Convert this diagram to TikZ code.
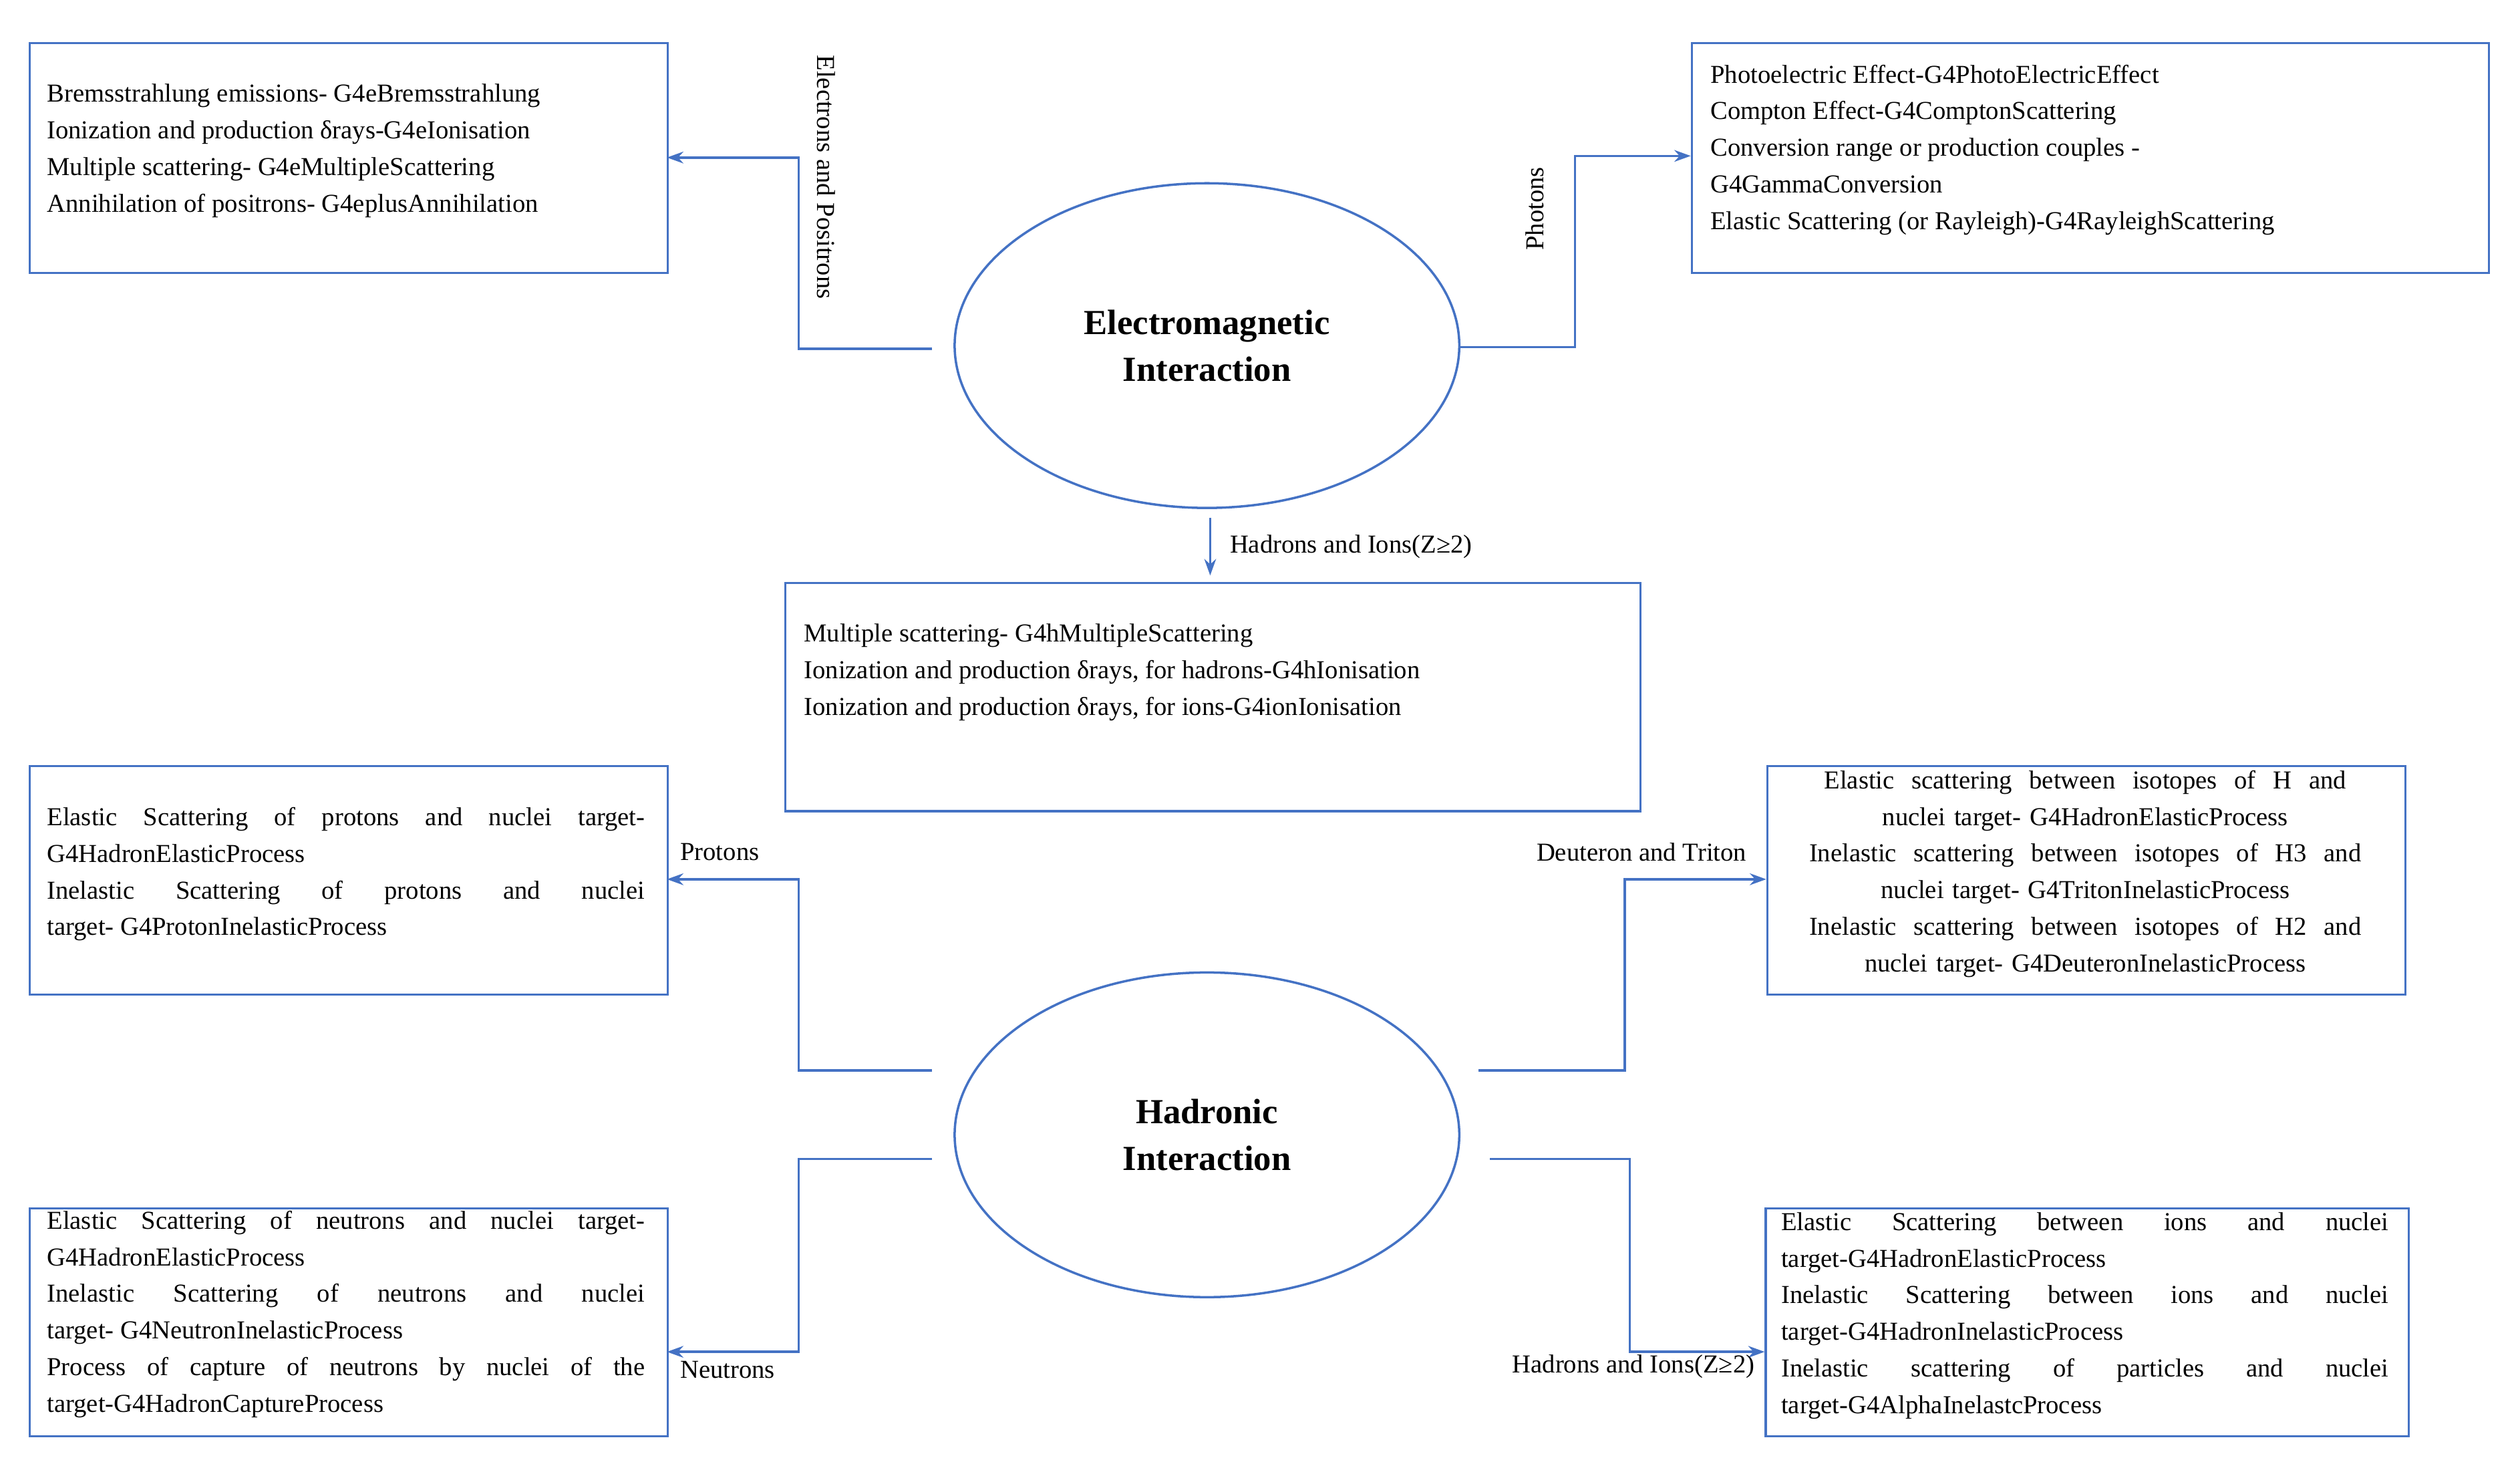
\documentclass[tikz,border=0pt]{standalone}
\usepackage{fontspec}
\setmainfont{Liberation Serif}
\usetikzlibrary{arrows.meta}
\definecolor{ln}{RGB}{68,114,196}
\begin{document}
\begin{tikzpicture}[x=0.02406cm,y=-0.02406cm,
  box/.style={draw=ln,line width=0.9pt,inner sep=0pt},
  txt/.style={font=\fontsize{11}{15.6}\selectfont,inner sep=0pt},
  con/.style={draw=ln,line width=1pt,-{Stealth[length=7pt,width=5pt]}},
  ell/.style={draw=ln,line width=1pt,ellipse,minimum width=314\pgflinewidth}]
\useasboundingbox (0,0) rectangle (1568,914.5);
% boxes
\node[box,minimum width=397*0.02406cm,minimum height=143*0.02406cm,anchor=north west] (b1) at (18,26) {};
\node[box,minimum width=496*0.02406cm,minimum height=143*0.02406cm,anchor=north west] (b2) at (1052,26) {};
\node[box,minimum width=532*0.02406cm,minimum height=142*0.02406cm,anchor=north west] (b3) at (488,362) {};
\node[box,minimum width=397*0.02406cm,minimum height=142*0.02406cm,anchor=north west] (b4) at (18,476) {};
\node[box,minimum width=397*0.02406cm,minimum height=142*0.02406cm,anchor=north west] (b5) at (1099,476) {};
\node[box,minimum width=397*0.02406cm,minimum height=142*0.02406cm,anchor=north west] (b6) at (18,751) {};
\node[box,minimum width=400*0.02406cm,minimum height=142*0.02406cm,anchor=north west] (b7) at (1098,751) {};
% texts
\node[txt,anchor=north west,align=left] (t1) at (29,52) {Bremsstrahlung emissions- G4eBremsstrahlung\\Ionization and production δrays-G4eIonisation\\Multiple scattering- G4eMultipleScattering\\Annihilation of positrons- G4eplusAnnihilation};
\node[txt,anchor=north west,align=left] (t2) at (1064,40) {Photoelectric Effect-G4PhotoElectricEffect\\Compton Effect-G4ComptonScattering\\Conversion range or production couples -\\G4GammaConversion\\Elastic Scattering (or Rayleigh)-G4RayleighScattering};
\node[txt,anchor=north west,align=left] (t3) at (500,388) {Multiple scattering- G4hMultipleScattering\\Ionization and production δrays, for hadrons-G4hIonisation\\Ionization and production δrays, for ions-G4ionIonisation};
\node[txt,anchor=north west,align=justify,text width=372*0.02406cm] (t4) at (29,502) {Elastic Scattering of protons and nuclei target-\linebreak G4HadronElasticProcess\\Inelastic Scattering of protons and nuclei\linebreak target- G4ProtonInelasticProcess};
\node[txt,anchor=north,align=center,text width=372*0.02406cm] (t5) at (1297.5,479) {Elastic\ \ scattering\ \ between\ \ isotopes\ \ of\ \ H\ \ and\\nuclei target- G4HadronElasticProcess\\Inelastic\ \ scattering\ \ between\ \ isotopes\ \ of\ \ H3\ \ and\\nuclei target- G4TritonInelasticProcess\\Inelastic\ \ scattering\ \ between\ \ isotopes\ \ of\ \ H2\ \ and\\nuclei target- G4DeuteronInelasticProcess};
\node[txt,anchor=north west,align=justify,text width=372*0.02406cm] (t6) at (29,753) {Elastic Scattering of neutrons and nuclei target-\linebreak G4HadronElasticProcess\\Inelastic Scattering of neutrons and nuclei\linebreak target- G4NeutronInelasticProcess\\Process of capture of neutrons by nuclei of the\linebreak target-G4HadronCaptureProcess};
\node[txt,anchor=north west,align=justify,text width=378*0.02406cm] (t7) at (1108,754) {Elastic Scattering between ions and nuclei\linebreak target-G4HadronElasticProcess\\Inelastic Scattering between ions and nuclei\linebreak target-G4HadronInelasticProcess\\Inelastic scattering of particles and nuclei\linebreak target-G4AlphaInelastcProcess};
% ellipses
\draw[ln,line width=1pt] (751,215) ellipse [x radius=157,y radius=101];
\draw[ln,line width=1pt] (751,706) ellipse [x radius=157,y radius=101];
\node[font=\fontsize{15}{20}\selectfont\bfseries,align=center] (e1) at (751,215) {Electromagnetic\\Interaction};
\node[font=\fontsize{15}{20}\selectfont\bfseries,align=center] (e2) at (751,706) {Hadronic\\Interaction};
% connectors
\coordinate (c1) at (580,217); \coordinate (a1) at (415,98);
\draw[con] (c1) -- (497,217) -- (497,98) -- (a1);
\coordinate (c2) at (908,216); \coordinate (a2) at (1052,97);
\draw[con] (c2) -- (980,216) -- (980,97) -- (a2);
\coordinate (c3) at (753,322); \coordinate (a3) at (753,358);
\draw[con] (c3) -- (a3);
\coordinate (c4) at (580,666); \coordinate (a4) at (415,547);
\draw[con] (c4) -- (497,666) -- (497,547) -- (a4);
\coordinate (c5) at (580,721); \coordinate (a5) at (415,841);
\draw[con] (c5) -- (497,721) -- (497,841) -- (a5);
\coordinate (c6) at (920,666); \coordinate (a6) at (1099,547);
\draw[con] (c6) -- (1011,666) -- (1011,547) -- (a6);
\coordinate (c7) at (927,721); \coordinate (a7) at (1098,841);
\draw[con] (c7) -- (1014,721) -- (1014,841) -- (a7);
% labels
\node[txt,rotate=-90,anchor=west] (l1) at (514,34) {Electrons and Positrons};
\node[txt,rotate=90,anchor=west] (l2) at (955,156) {Photons};
\node[txt,anchor=west] (l3) at (765,340) {Hadrons and Ions(Z≥2)};
\node[txt,anchor=west] (l4) at (423,530) {Protons};
\node[txt,anchor=west] (l5) at (423,852) {Neutrons};
\node[txt,anchor=east] (l6) at (1087,530) {Deuteron and Triton};
\node[txt,anchor=east] (l7) at (1092,850) {Hadrons and Ions(Z≥2)};
\end{tikzpicture}
\end{document}
